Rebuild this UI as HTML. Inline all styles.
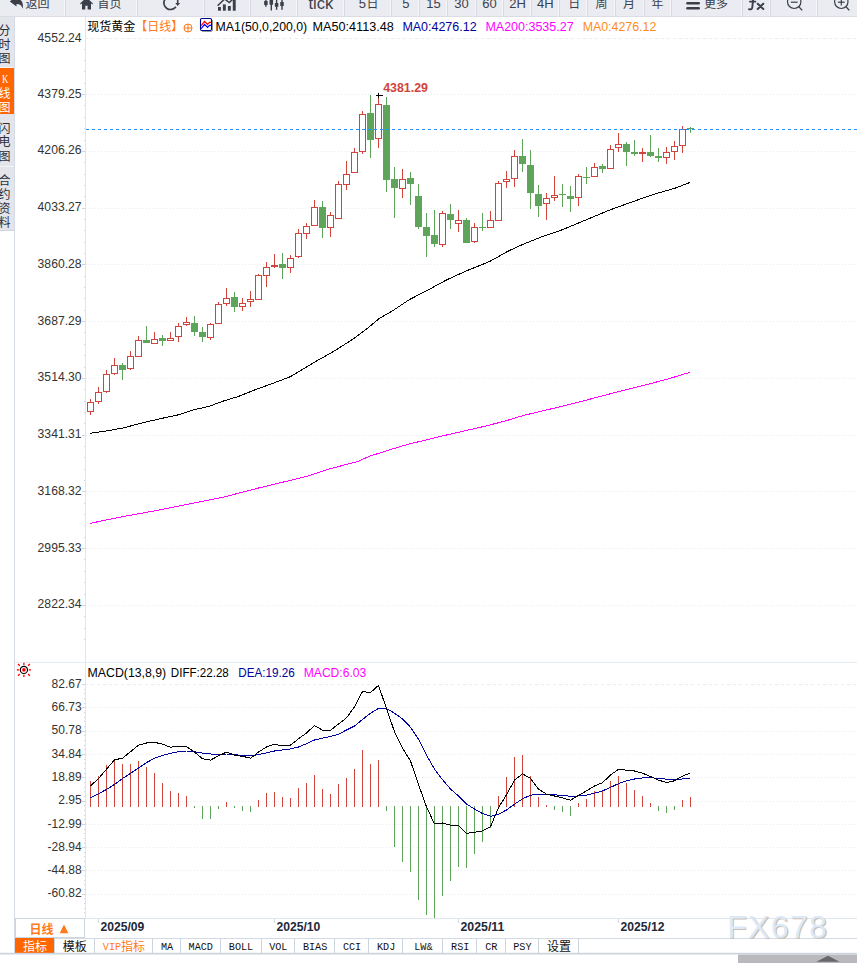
<!DOCTYPE html>
<html><head><meta charset="utf-8"><title>chart</title>
<style>html,body{margin:0;padding:0;background:#fff;}svg{display:block;}.cjk{font-family:"Liberation Sans","Noto Sans CJK SC",sans-serif;}</style>
</head><body>
<svg width="857" height="963" viewBox="0 0 857 963" font-family="'Liberation Sans', sans-serif" font-size="12">
<rect width="857" height="963" fill="#fff"/>
<g id="toolbar">
<rect x="0" y="0" width="857" height="16" fill="#ebecf2"/>
<rect x="0" y="16" width="857" height="1" fill="#dcdde4"/>
<rect x="64" y="0" width="1" height="16" fill="#f6f6fa"/><rect x="65" y="0" width="1" height="17" fill="#d9dae1"/>
<rect x="136" y="0" width="1" height="16" fill="#f6f6fa"/><rect x="137" y="0" width="1" height="17" fill="#d9dae1"/>
<rect x="203" y="0" width="1" height="16" fill="#f6f6fa"/><rect x="204" y="0" width="1" height="17" fill="#d9dae1"/>
<rect x="249" y="0" width="1" height="16" fill="#f6f6fa"/><rect x="250" y="0" width="1" height="17" fill="#d9dae1"/>
<rect x="296" y="0" width="1" height="16" fill="#f6f6fa"/><rect x="297" y="0" width="1" height="17" fill="#d9dae1"/>
<rect x="343" y="0" width="1" height="16" fill="#f6f6fa"/><rect x="344" y="0" width="1" height="17" fill="#d9dae1"/>
<rect x="390" y="0" width="1" height="16" fill="#f6f6fa"/><rect x="391" y="0" width="1" height="17" fill="#d9dae1"/>
<rect x="418" y="0" width="1" height="16" fill="#f6f6fa"/><rect x="419" y="0" width="1" height="17" fill="#d9dae1"/>
<rect x="446" y="0" width="1" height="16" fill="#f6f6fa"/><rect x="447" y="0" width="1" height="17" fill="#d9dae1"/>
<rect x="475" y="0" width="1" height="16" fill="#f6f6fa"/><rect x="476" y="0" width="1" height="17" fill="#d9dae1"/>
<rect x="502" y="0" width="1" height="16" fill="#f6f6fa"/><rect x="503" y="0" width="1" height="17" fill="#d9dae1"/>
<rect x="530" y="0" width="1" height="16" fill="#f6f6fa"/><rect x="531" y="0" width="1" height="17" fill="#d9dae1"/>
<rect x="558" y="0" width="1" height="16" fill="#f6f6fa"/><rect x="559" y="0" width="1" height="17" fill="#d9dae1"/>
<rect x="586" y="0" width="1" height="16" fill="#f6f6fa"/><rect x="587" y="0" width="1" height="17" fill="#d9dae1"/>
<rect x="614" y="0" width="1" height="16" fill="#f6f6fa"/><rect x="615" y="0" width="1" height="17" fill="#d9dae1"/>
<rect x="643" y="0" width="1" height="16" fill="#f6f6fa"/><rect x="644" y="0" width="1" height="17" fill="#d9dae1"/>
<rect x="670" y="0" width="1" height="16" fill="#f6f6fa"/><rect x="671" y="0" width="1" height="17" fill="#d9dae1"/>
<rect x="741" y="0" width="1" height="16" fill="#f6f6fa"/><rect x="742" y="0" width="1" height="17" fill="#d9dae1"/>
<rect x="769" y="0" width="1" height="16" fill="#f6f6fa"/><rect x="770" y="0" width="1" height="17" fill="#d9dae1"/>
<rect x="816" y="0" width="1" height="16" fill="#f6f6fa"/><rect x="817" y="0" width="1" height="17" fill="#d9dae1"/>
<path d="M9.8 1.5 L16.5 -4.4 L16.5 -1.2 C21.2 -1.2 23.6 2.2 22.8 8.8 C21.6 5.4 19.8 4.0 16.5 4.0 L16.5 6.6 Z" fill="#3a3f4a"/>
<text class="cjk" x="25.5" y="7.7" font-size="12" fill="#3a3f4a">返回</text>
<path d="M80 3.6 L86.5 -2.6 L93 3.6 L92.2 4.4 L91 3.3 L91 9.6 L87.6 9.6 L87.6 5.8 L85.3 5.8 L85.3 9.6 L82 9.6 L82 3.3 L80.8 4.4 Z" fill="#3a3f4a"/>
<text class="cjk" x="97.5" y="7.7" font-size="12" fill="#3a3f4a">首页</text>
<path d="M175.9 6.7 A6.6 6.6 0 1 1 173.8 -2.8" fill="none" stroke="#3a3f4a" stroke-width="1.7"/>
<path d="M176.9 -4 H178.5 V3 H180.1 L177.7 6.1 L175.3 3 H176.9 Z" fill="#3a3f4a"/>
<rect x="218" y="7" width="2.9" height="3.6999999999999993" fill="#3a3f4a"/>
<rect x="222.9" y="4.4" width="2.9" height="6.299999999999999" fill="#3a3f4a"/>
<rect x="227.9" y="6" width="2.9" height="4.699999999999999" fill="#3a3f4a"/>
<rect x="232.8" y="-1" width="2.9" height="11.7" fill="#3a3f4a"/>
<path d="M217.6 5.8 L224.6 -1 L229.3 2.6 L234.4 -2.4" fill="none" stroke="#3a3f4a" stroke-width="1.5"/>
<rect x="265.2" y="-3" width="1.4" height="9.8" fill="#3a3f4a"/><rect x="264.15" y="1" width="3.5" height="4.1" rx="0.5" fill="#3a3f4a"/>
<rect x="270.6" y="-4" width="1.4" height="14.5" fill="#3a3f4a"/><rect x="269.55" y="-4" width="3.5" height="8.7" rx="0.5" fill="#3a3f4a"/>
<rect x="275.90000000000003" y="-4" width="1.4" height="13.8" fill="#3a3f4a"/><rect x="274.85" y="3" width="3.5" height="3.8" rx="0.5" fill="#3a3f4a"/>
<rect x="281.3" y="-4" width="1.4" height="13.8" fill="#3a3f4a"/><rect x="280.25" y="2" width="3.5" height="4" rx="0.5" fill="#3a3f4a"/>
<text x="308.4" y="8.7" font-size="16" fill="#3a3f4a" textLength="24.8" lengthAdjust="spacingAndGlyphs">tick</text>
<text x="358.7" y="7.8" font-size="13" fill="#3a3f4a">5</text>
<text class="cjk" x="366.4" y="7.7" font-size="12" fill="#3a3f4a">日</text>
<text x="402.3" y="7.8" font-size="13" fill="#3a3f4a">5</text>
<text x="426.2" y="7.8" font-size="13" fill="#3a3f4a">15</text>
<text x="454.3" y="7.8" font-size="13" fill="#3a3f4a">30</text>
<text x="482.3" y="7.8" font-size="13" fill="#3a3f4a">60</text>
<text x="509.3" y="7.8" font-size="13" fill="#3a3f4a">2H</text>
<text x="537.1" y="7.8" font-size="13" fill="#3a3f4a">4H</text>
<text class="cjk" x="568.3" y="7.6" font-size="12" fill="#3a3f4a">日</text>
<text class="cjk" x="595.5" y="7.6" font-size="12" fill="#3a3f4a">周</text>
<text class="cjk" x="623" y="7.6" font-size="12" fill="#3a3f4a">月</text>
<text class="cjk" x="651.4" y="7.5" font-size="12" fill="#3a3f4a">年</text>
<rect x="686.2" y="2" width="13.8" height="2.6" rx="1.3" fill="#3a3f4a"/><rect x="686.2" y="7" width="13.8" height="2.6" rx="1.3" fill="#3a3f4a"/>
<text class="cjk" x="704" y="8" font-size="12" fill="#3a3f4a">更多</text>
<path d="M753.4 -3 L752.3 7.4 Q752 9.9 749 9.2 M750 1.6 H755.4" stroke="#3a3f4a" stroke-width="1.9" fill="none" stroke-linecap="round"/>
<path d="M757.7 3.7 L763.3 9 M763.3 3.7 L757.7 9" stroke="#3a3f4a" stroke-width="2" fill="none" stroke-linecap="round"/>
<circle cx="794.2" cy="1.8" r="6.7" fill="none" stroke="#3a3f4a" stroke-width="1.2"/>
<path d="M798.8000000000001 6.6 L802.2 10.4" stroke="#3a3f4a" stroke-width="1.4" fill="none"/>
<path d="M790.8000000000001 2.2 L797.6 2.2" stroke="#3a3f4a" stroke-width="1.2" fill="none"/>
<circle cx="841.3" cy="1.8" r="6.7" fill="none" stroke="#3a3f4a" stroke-width="1.2"/>
<path d="M845.9 6.6 L849.3 10.4" stroke="#3a3f4a" stroke-width="1.4" fill="none"/>
<path d="M837.9 2.2 L844.6999999999999 2.2" stroke="#3a3f4a" stroke-width="1.2" fill="none"/>
<path d="M841.3 -1.4 L841.3 5.6" stroke="#3a3f4a" stroke-width="1.2" fill="none"/>
</g>
<g id="sidebar">
<rect x="0" y="17" width="14" height="214" fill="#e4e5eb"/>
<rect x="14" y="17" width="1" height="937" fill="#d5dbe6"/>
<rect x="0" y="68" width="14" height="46" fill="#ff6600"/>
<rect x="0" y="67" width="14" height="1" fill="#f3f3f7"/>
<rect x="0" y="166" width="14" height="1" fill="#f3f3f7"/>
<rect x="0" y="230" width="15" height="1" fill="#d0d4dc"/>
<text class="cjk" x="4.5" y="34.9" font-size="12" text-anchor="middle" fill="#2a2f3a">分</text>
<text class="cjk" x="4.5" y="49" font-size="12" text-anchor="middle" fill="#2a2f3a">时</text>
<text class="cjk" x="4.5" y="63.2" font-size="12" text-anchor="middle" fill="#2a2f3a">图</text>
<text x="1.9" y="83" font-size="11.6" font-family="'Liberation Serif', serif" fill="#fff" textLength="6.4" lengthAdjust="spacingAndGlyphs">K</text>
<text class="cjk" x="4.5" y="97.6" font-size="12" text-anchor="middle" fill="#fff">线</text>
<text class="cjk" x="4.5" y="112" font-size="12" text-anchor="middle" fill="#fff">图</text>
<text class="cjk" x="4.5" y="132.7" font-size="12" text-anchor="middle" fill="#2a2f3a">闪</text>
<text class="cjk" x="4.5" y="146.4" font-size="12" text-anchor="middle" fill="#2a2f3a">电</text>
<text class="cjk" x="4.5" y="160.5" font-size="12" text-anchor="middle" fill="#2a2f3a">图</text>
<text class="cjk" x="4.5" y="184.6" font-size="12" text-anchor="middle" fill="#2a2f3a">合</text>
<text class="cjk" x="4.5" y="198.9" font-size="12" text-anchor="middle" fill="#2a2f3a">约</text>
<text class="cjk" x="4.5" y="212.9" font-size="12" text-anchor="middle" fill="#2a2f3a">资</text>
<text class="cjk" x="4.5" y="226.8" font-size="12" text-anchor="middle" fill="#2a2f3a">料</text>
</g>
<g id="grid" shape-rendering="crispEdges">
<rect x="85" y="17" width="1" height="902" fill="#dde5ee"/>
<line x1="85" y1="38.5" x2="857" y2="38.5" stroke="#e8edf2" stroke-dasharray="3 3"/>
<rect x="84" y="49" width="1" height="1" fill="#ccd6e0"/>
<rect x="84" y="60" width="1" height="1" fill="#ccd6e0"/>
<rect x="84" y="71" width="1" height="1" fill="#ccd6e0"/>
<rect x="84" y="83" width="1" height="1" fill="#ccd6e0"/>
<line x1="86" y1="94.5" x2="857" y2="94.5" stroke="#e8edf2" stroke-dasharray="1 2"/>
<rect x="82" y="94" width="3" height="1" fill="#ccd6e0"/>
<rect x="84" y="105" width="1" height="1" fill="#ccd6e0"/>
<rect x="84" y="117" width="1" height="1" fill="#ccd6e0"/>
<rect x="84" y="128" width="1" height="1" fill="#ccd6e0"/>
<rect x="84" y="140" width="1" height="1" fill="#ccd6e0"/>
<line x1="86" y1="151.5" x2="857" y2="151.5" stroke="#e8edf2" stroke-dasharray="1 2"/>
<rect x="82" y="151" width="3" height="1" fill="#ccd6e0"/>
<rect x="84" y="162" width="1" height="1" fill="#ccd6e0"/>
<rect x="84" y="174" width="1" height="1" fill="#ccd6e0"/>
<rect x="84" y="185" width="1" height="1" fill="#ccd6e0"/>
<rect x="84" y="196" width="1" height="1" fill="#ccd6e0"/>
<line x1="86" y1="208.5" x2="857" y2="208.5" stroke="#e8edf2" stroke-dasharray="1 2"/>
<rect x="82" y="208" width="3" height="1" fill="#ccd6e0"/>
<rect x="84" y="219" width="1" height="1" fill="#ccd6e0"/>
<rect x="84" y="230" width="1" height="1" fill="#ccd6e0"/>
<rect x="84" y="242" width="1" height="1" fill="#ccd6e0"/>
<rect x="84" y="253" width="1" height="1" fill="#ccd6e0"/>
<line x1="86" y1="264.5" x2="857" y2="264.5" stroke="#e8edf2" stroke-dasharray="1 2"/>
<rect x="82" y="264" width="3" height="1" fill="#ccd6e0"/>
<rect x="84" y="276" width="1" height="1" fill="#ccd6e0"/>
<rect x="84" y="287" width="1" height="1" fill="#ccd6e0"/>
<rect x="84" y="298" width="1" height="1" fill="#ccd6e0"/>
<rect x="84" y="310" width="1" height="1" fill="#ccd6e0"/>
<line x1="86" y1="321.5" x2="857" y2="321.5" stroke="#e8edf2" stroke-dasharray="1 2"/>
<rect x="82" y="321" width="3" height="1" fill="#ccd6e0"/>
<rect x="84" y="332" width="1" height="1" fill="#ccd6e0"/>
<rect x="84" y="344" width="1" height="1" fill="#ccd6e0"/>
<rect x="84" y="355" width="1" height="1" fill="#ccd6e0"/>
<rect x="84" y="367" width="1" height="1" fill="#ccd6e0"/>
<line x1="86" y1="378.5" x2="857" y2="378.5" stroke="#e8edf2" stroke-dasharray="1 2"/>
<rect x="82" y="378" width="3" height="1" fill="#ccd6e0"/>
<rect x="84" y="389" width="1" height="1" fill="#ccd6e0"/>
<rect x="84" y="401" width="1" height="1" fill="#ccd6e0"/>
<rect x="84" y="412" width="1" height="1" fill="#ccd6e0"/>
<rect x="84" y="423" width="1" height="1" fill="#ccd6e0"/>
<line x1="86" y1="435.5" x2="857" y2="435.5" stroke="#e8edf2" stroke-dasharray="1 2"/>
<rect x="82" y="435" width="3" height="1" fill="#ccd6e0"/>
<rect x="84" y="446" width="1" height="1" fill="#ccd6e0"/>
<rect x="84" y="457" width="1" height="1" fill="#ccd6e0"/>
<rect x="84" y="469" width="1" height="1" fill="#ccd6e0"/>
<rect x="84" y="480" width="1" height="1" fill="#ccd6e0"/>
<line x1="86" y1="491.5" x2="857" y2="491.5" stroke="#e8edf2" stroke-dasharray="1 2"/>
<rect x="82" y="491" width="3" height="1" fill="#ccd6e0"/>
<rect x="84" y="503" width="1" height="1" fill="#ccd6e0"/>
<rect x="84" y="514" width="1" height="1" fill="#ccd6e0"/>
<rect x="84" y="525" width="1" height="1" fill="#ccd6e0"/>
<rect x="84" y="537" width="1" height="1" fill="#ccd6e0"/>
<line x1="86" y1="548.5" x2="857" y2="548.5" stroke="#e8edf2" stroke-dasharray="1 2"/>
<rect x="82" y="548" width="3" height="1" fill="#ccd6e0"/>
<rect x="84" y="559" width="1" height="1" fill="#ccd6e0"/>
<rect x="84" y="571" width="1" height="1" fill="#ccd6e0"/>
<rect x="84" y="582" width="1" height="1" fill="#ccd6e0"/>
<rect x="84" y="594" width="1" height="1" fill="#ccd6e0"/>
<line x1="86" y1="605.5" x2="857" y2="605.5" stroke="#e8edf2" stroke-dasharray="1 2"/>
<rect x="82" y="605" width="3" height="1" fill="#ccd6e0"/>
<rect x="84" y="616" width="1" height="1" fill="#ccd6e0"/>
<rect x="84" y="628" width="1" height="1" fill="#ccd6e0"/>
<rect x="84" y="639" width="1" height="1" fill="#ccd6e0"/>
<rect x="15" y="662" width="842" height="1" fill="#e6ecf3"/>
<line x1="85" y1="684.5" x2="857" y2="684.5" stroke="#e8edf2" stroke-dasharray="3 3"/>
<rect x="82" y="684" width="3" height="1" fill="#ccd6e0"/>
<rect x="84" y="689" width="1" height="1" fill="#ccd6e0"/>
<rect x="84" y="693" width="1" height="1" fill="#ccd6e0"/>
<rect x="84" y="698" width="1" height="1" fill="#ccd6e0"/>
<rect x="84" y="703" width="1" height="1" fill="#ccd6e0"/>
<line x1="86" y1="707.5" x2="857" y2="707.5" stroke="#e8edf2" stroke-dasharray="1 2"/>
<rect x="82" y="707" width="3" height="1" fill="#ccd6e0"/>
<rect x="84" y="712" width="1" height="1" fill="#ccd6e0"/>
<rect x="84" y="717" width="1" height="1" fill="#ccd6e0"/>
<rect x="84" y="721" width="1" height="1" fill="#ccd6e0"/>
<rect x="84" y="726" width="1" height="1" fill="#ccd6e0"/>
<line x1="86" y1="731.5" x2="857" y2="731.5" stroke="#e8edf2" stroke-dasharray="1 2"/>
<rect x="82" y="731" width="3" height="1" fill="#ccd6e0"/>
<rect x="84" y="735" width="1" height="1" fill="#ccd6e0"/>
<rect x="84" y="740" width="1" height="1" fill="#ccd6e0"/>
<rect x="84" y="745" width="1" height="1" fill="#ccd6e0"/>
<rect x="84" y="749" width="1" height="1" fill="#ccd6e0"/>
<line x1="86" y1="754.5" x2="857" y2="754.5" stroke="#e8edf2" stroke-dasharray="1 2"/>
<rect x="82" y="754" width="3" height="1" fill="#ccd6e0"/>
<rect x="84" y="759" width="1" height="1" fill="#ccd6e0"/>
<rect x="84" y="763" width="1" height="1" fill="#ccd6e0"/>
<rect x="84" y="768" width="1" height="1" fill="#ccd6e0"/>
<rect x="84" y="773" width="1" height="1" fill="#ccd6e0"/>
<line x1="86" y1="777.5" x2="857" y2="777.5" stroke="#e8edf2" stroke-dasharray="1 2"/>
<rect x="82" y="777" width="3" height="1" fill="#ccd6e0"/>
<rect x="84" y="782" width="1" height="1" fill="#ccd6e0"/>
<rect x="84" y="787" width="1" height="1" fill="#ccd6e0"/>
<rect x="84" y="791" width="1" height="1" fill="#ccd6e0"/>
<rect x="84" y="796" width="1" height="1" fill="#ccd6e0"/>
<line x1="86" y1="801.5" x2="857" y2="801.5" stroke="#e8edf2" stroke-dasharray="1 2"/>
<rect x="82" y="801" width="3" height="1" fill="#ccd6e0"/>
<rect x="84" y="805" width="1" height="1" fill="#ccd6e0"/>
<rect x="84" y="810" width="1" height="1" fill="#ccd6e0"/>
<rect x="84" y="815" width="1" height="1" fill="#ccd6e0"/>
<rect x="84" y="819" width="1" height="1" fill="#ccd6e0"/>
<line x1="86" y1="824.5" x2="857" y2="824.5" stroke="#e8edf2" stroke-dasharray="1 2"/>
<rect x="82" y="824" width="3" height="1" fill="#ccd6e0"/>
<rect x="84" y="829" width="1" height="1" fill="#ccd6e0"/>
<rect x="84" y="833" width="1" height="1" fill="#ccd6e0"/>
<rect x="84" y="838" width="1" height="1" fill="#ccd6e0"/>
<rect x="84" y="843" width="1" height="1" fill="#ccd6e0"/>
<line x1="86" y1="847.5" x2="857" y2="847.5" stroke="#e8edf2" stroke-dasharray="1 2"/>
<rect x="82" y="847" width="3" height="1" fill="#ccd6e0"/>
<rect x="84" y="852" width="1" height="1" fill="#ccd6e0"/>
<rect x="84" y="856" width="1" height="1" fill="#ccd6e0"/>
<rect x="84" y="861" width="1" height="1" fill="#ccd6e0"/>
<rect x="84" y="866" width="1" height="1" fill="#ccd6e0"/>
<line x1="86" y1="870.5" x2="857" y2="870.5" stroke="#e8edf2" stroke-dasharray="1 2"/>
<rect x="82" y="870" width="3" height="1" fill="#ccd6e0"/>
<rect x="84" y="875" width="1" height="1" fill="#ccd6e0"/>
<rect x="84" y="880" width="1" height="1" fill="#ccd6e0"/>
<rect x="84" y="884" width="1" height="1" fill="#ccd6e0"/>
<rect x="84" y="889" width="1" height="1" fill="#ccd6e0"/>
<line x1="86" y1="894.5" x2="857" y2="894.5" stroke="#e8edf2" stroke-dasharray="1 2"/>
<rect x="82" y="894" width="3" height="1" fill="#ccd6e0"/>
<rect x="84" y="898" width="1" height="1" fill="#ccd6e0"/>
<rect x="84" y="903" width="1" height="1" fill="#ccd6e0"/>
<rect x="84" y="908" width="1" height="1" fill="#ccd6e0"/>
<rect x="84" y="912" width="1" height="1" fill="#ccd6e0"/>
<rect x="85" y="918" width="772" height="1" fill="#dfe6ee"/>
<rect x="15" y="938" width="842" height="1" fill="#d3dae4"/>
<rect x="98" y="919" width="1" height="4" fill="#d3dae4"/>
<rect x="274" y="919" width="1" height="4" fill="#d3dae4"/>
<rect x="458" y="919" width="1" height="4" fill="#d3dae4"/>
<rect x="618" y="919" width="1" height="4" fill="#d3dae4"/>
</g>
<g id="ylabels" fill="#333" text-anchor="end">
<text x="81.6" y="41.8" textLength="44" lengthAdjust="spacingAndGlyphs">4552.24</text>
<text x="81.6" y="97.7" textLength="44" lengthAdjust="spacingAndGlyphs">4379.25</text>
<text x="81.6" y="154.45" textLength="44" lengthAdjust="spacingAndGlyphs">4206.26</text>
<text x="81.6" y="211.2" textLength="44" lengthAdjust="spacingAndGlyphs">4033.27</text>
<text x="81.6" y="267.95" textLength="44" lengthAdjust="spacingAndGlyphs">3860.28</text>
<text x="81.6" y="324.7" textLength="44" lengthAdjust="spacingAndGlyphs">3687.29</text>
<text x="81.6" y="381.45" textLength="44" lengthAdjust="spacingAndGlyphs">3514.30</text>
<text x="81.6" y="438.2" textLength="44" lengthAdjust="spacingAndGlyphs">3341.31</text>
<text x="81.6" y="494.95" textLength="44" lengthAdjust="spacingAndGlyphs">3168.32</text>
<text x="81.6" y="551.7" textLength="44" lengthAdjust="spacingAndGlyphs">2995.33</text>
<text x="81.6" y="608.45" textLength="44" lengthAdjust="spacingAndGlyphs">2822.34</text>
<text x="81.6" y="687.7">82.67</text>
<text x="81.6" y="711.01">66.73</text>
<text x="81.6" y="734.32">50.78</text>
<text x="81.6" y="757.63">34.84</text>
<text x="81.6" y="780.94">18.89</text>
<text x="81.6" y="804.25">2.95</text>
<text x="81.6" y="827.56">-12.99</text>
<text x="81.6" y="850.87">-28.94</text>
<text x="81.6" y="874.18">-44.88</text>
<text x="81.6" y="897.49">-60.82</text>
</g>
<g id="candles" shape-rendering="crispEdges">
<rect x="90" y="399" width="1" height="3" fill="#d0443b"/>
<rect x="90" y="412" width="1" height="3" fill="#d0443b"/>
<rect x="87" y="402" width="7" height="10" fill="#d0443b"/><rect x="88" y="403" width="5" height="8" fill="#fff"/>
<rect x="98" y="387" width="1" height="5" fill="#d0443b"/>
<rect x="98" y="402" width="1" height="2" fill="#d0443b"/>
<rect x="95" y="392" width="7" height="10" fill="#d0443b"/><rect x="96" y="393" width="5" height="8" fill="#fff"/>
<rect x="106" y="370" width="1" height="4" fill="#d0443b"/>
<rect x="106" y="392" width="1" height="1" fill="#d0443b"/>
<rect x="103" y="374" width="7" height="18" fill="#d0443b"/><rect x="104" y="375" width="5" height="16" fill="#fff"/>
<rect x="114" y="358" width="1" height="7" fill="#d0443b"/>
<rect x="114" y="374" width="1" height="1" fill="#d0443b"/>
<rect x="111" y="365" width="7" height="9" fill="#d0443b"/><rect x="112" y="366" width="5" height="7" fill="#fff"/>
<rect x="122" y="363" width="1" height="17" fill="#5fa45b"/>
<rect x="119" y="365" width="7" height="5" fill="#5fa45b"/>
<rect x="130" y="351" width="1" height="5" fill="#d0443b"/>
<rect x="130" y="369" width="1" height="1" fill="#d0443b"/>
<rect x="127" y="356" width="7" height="13" fill="#d0443b"/><rect x="128" y="357" width="5" height="11" fill="#fff"/>
<rect x="138" y="336" width="1" height="4" fill="#d0443b"/>
<rect x="135" y="340" width="7" height="17" fill="#d0443b"/><rect x="136" y="341" width="5" height="15" fill="#fff"/>
<rect x="146" y="326" width="1" height="17" fill="#5fa45b"/>
<rect x="143" y="340" width="7" height="3" fill="#5fa45b"/>
<rect x="154" y="332" width="1" height="7" fill="#d0443b"/>
<rect x="151" y="339" width="7" height="5" fill="#d0443b"/><rect x="152" y="340" width="5" height="3" fill="#fff"/>
<rect x="162" y="335" width="1" height="11" fill="#5fa45b"/>
<rect x="159" y="338" width="7" height="3" fill="#5fa45b"/>
<rect x="170" y="332" width="1" height="6" fill="#d0443b"/>
<rect x="167" y="338" width="7" height="3" fill="#d0443b"/><rect x="168" y="339" width="5" height="1" fill="#fff"/>
<rect x="178" y="323" width="1" height="3" fill="#d0443b"/>
<rect x="178" y="337" width="1" height="5" fill="#d0443b"/>
<rect x="175" y="326" width="7" height="11" fill="#d0443b"/><rect x="176" y="327" width="5" height="9" fill="#fff"/>
<rect x="186" y="317" width="1" height="5" fill="#d0443b"/>
<rect x="186" y="325" width="1" height="1" fill="#d0443b"/>
<rect x="183" y="322" width="7" height="3" fill="#d0443b"/><rect x="184" y="323" width="5" height="1" fill="#fff"/>
<rect x="194" y="316" width="1" height="20" fill="#5fa45b"/>
<rect x="191" y="323" width="7" height="9" fill="#5fa45b"/>
<rect x="202" y="327" width="1" height="15" fill="#5fa45b"/>
<rect x="199" y="332" width="7" height="5" fill="#5fa45b"/>
<rect x="210" y="323" width="1" height="1" fill="#d0443b"/>
<rect x="210" y="338" width="1" height="2" fill="#d0443b"/>
<rect x="207" y="324" width="7" height="14" fill="#d0443b"/><rect x="208" y="325" width="5" height="12" fill="#fff"/>
<rect x="218" y="302" width="1" height="2" fill="#d0443b"/>
<rect x="215" y="304" width="7" height="20" fill="#d0443b"/><rect x="216" y="305" width="5" height="18" fill="#fff"/>
<rect x="226" y="288" width="1" height="10" fill="#d0443b"/>
<rect x="226" y="304" width="1" height="2" fill="#d0443b"/>
<rect x="223" y="298" width="7" height="6" fill="#d0443b"/><rect x="224" y="299" width="5" height="4" fill="#fff"/>
<rect x="234" y="292" width="1" height="20" fill="#5fa45b"/>
<rect x="231" y="297" width="7" height="10" fill="#5fa45b"/>
<rect x="242" y="298" width="1" height="5" fill="#d0443b"/>
<rect x="242" y="307" width="1" height="4" fill="#d0443b"/>
<rect x="239" y="303" width="7" height="4" fill="#d0443b"/><rect x="240" y="304" width="5" height="2" fill="#fff"/>
<rect x="250" y="291" width="1" height="8" fill="#d0443b"/>
<rect x="250" y="302" width="1" height="5" fill="#d0443b"/>
<rect x="247" y="299" width="7" height="3" fill="#d0443b"/><rect x="248" y="300" width="5" height="1" fill="#fff"/>
<rect x="258" y="274" width="1" height="1" fill="#d0443b"/>
<rect x="255" y="275" width="7" height="25" fill="#d0443b"/><rect x="256" y="276" width="5" height="23" fill="#fff"/>
<rect x="266" y="262" width="1" height="5" fill="#d0443b"/>
<rect x="266" y="276" width="1" height="11" fill="#d0443b"/>
<rect x="263" y="267" width="7" height="9" fill="#d0443b"/><rect x="264" y="268" width="5" height="7" fill="#fff"/>
<rect x="274" y="254" width="1" height="11" fill="#d0443b"/>
<rect x="274" y="267" width="1" height="1" fill="#d0443b"/>
<rect x="271" y="265" width="7" height="2" fill="#d0443b"/>
<rect x="282" y="253" width="1" height="26" fill="#5fa45b"/>
<rect x="279" y="264" width="7" height="4" fill="#5fa45b"/>
<rect x="290" y="255" width="1" height="3" fill="#d0443b"/>
<rect x="290" y="268" width="1" height="5" fill="#d0443b"/>
<rect x="287" y="258" width="7" height="10" fill="#d0443b"/><rect x="288" y="259" width="5" height="8" fill="#fff"/>
<rect x="298" y="229" width="1" height="4" fill="#d0443b"/>
<rect x="298" y="257" width="1" height="1" fill="#d0443b"/>
<rect x="295" y="233" width="7" height="24" fill="#d0443b"/><rect x="296" y="234" width="5" height="22" fill="#fff"/>
<rect x="306" y="223" width="1" height="3" fill="#d0443b"/>
<rect x="306" y="234" width="1" height="5" fill="#d0443b"/>
<rect x="303" y="226" width="7" height="8" fill="#d0443b"/><rect x="304" y="227" width="5" height="6" fill="#fff"/>
<rect x="314" y="200" width="1" height="7" fill="#d0443b"/>
<rect x="311" y="207" width="7" height="19" fill="#d0443b"/><rect x="312" y="208" width="5" height="17" fill="#fff"/>
<rect x="322" y="201" width="1" height="37" fill="#5fa45b"/>
<rect x="319" y="207" width="7" height="21" fill="#5fa45b"/>
<rect x="330" y="212" width="1" height="3" fill="#d0443b"/>
<rect x="330" y="228" width="1" height="9" fill="#d0443b"/>
<rect x="327" y="215" width="7" height="13" fill="#d0443b"/><rect x="328" y="216" width="5" height="11" fill="#fff"/>
<rect x="338" y="181" width="1" height="3" fill="#d0443b"/>
<rect x="335" y="184" width="7" height="35" fill="#d0443b"/><rect x="336" y="185" width="5" height="33" fill="#fff"/>
<rect x="346" y="161" width="1" height="13" fill="#d0443b"/>
<rect x="346" y="185" width="1" height="5" fill="#d0443b"/>
<rect x="343" y="174" width="7" height="11" fill="#d0443b"/><rect x="344" y="175" width="5" height="9" fill="#fff"/>
<rect x="354" y="148" width="1" height="4" fill="#d0443b"/>
<rect x="351" y="152" width="7" height="21" fill="#d0443b"/><rect x="352" y="153" width="5" height="19" fill="#fff"/>
<rect x="362" y="111" width="1" height="3" fill="#d0443b"/>
<rect x="362" y="152" width="1" height="2" fill="#d0443b"/>
<rect x="359" y="114" width="7" height="38" fill="#d0443b"/><rect x="360" y="115" width="5" height="36" fill="#fff"/>
<rect x="370" y="95" width="1" height="63" fill="#5fa45b"/>
<rect x="367" y="113" width="7" height="27" fill="#5fa45b"/>
<rect x="378" y="95" width="1" height="9" fill="#d0443b"/>
<rect x="378" y="139" width="1" height="9" fill="#d0443b"/>
<rect x="375" y="104" width="7" height="35" fill="#d0443b"/><rect x="376" y="105" width="5" height="33" fill="#fff"/>
<rect x="386" y="97" width="1" height="95" fill="#5fa45b"/>
<rect x="383" y="105" width="7" height="75" fill="#5fa45b"/>
<rect x="394" y="167" width="1" height="51" fill="#5fa45b"/>
<rect x="391" y="179" width="7" height="9" fill="#5fa45b"/>
<rect x="402" y="169" width="1" height="10" fill="#d0443b"/>
<rect x="402" y="189" width="1" height="9" fill="#d0443b"/>
<rect x="399" y="179" width="7" height="10" fill="#d0443b"/><rect x="400" y="180" width="5" height="8" fill="#fff"/>
<rect x="410" y="172" width="1" height="33" fill="#5fa45b"/>
<rect x="407" y="178" width="7" height="6" fill="#5fa45b"/>
<rect x="418" y="184" width="1" height="45" fill="#5fa45b"/>
<rect x="415" y="196" width="7" height="31" fill="#5fa45b"/>
<rect x="426" y="213" width="1" height="44" fill="#5fa45b"/>
<rect x="423" y="227" width="7" height="9" fill="#5fa45b"/>
<rect x="434" y="210" width="1" height="37" fill="#5fa45b"/>
<rect x="431" y="235" width="7" height="9" fill="#5fa45b"/>
<rect x="442" y="211" width="1" height="2" fill="#d0443b"/>
<rect x="442" y="245" width="1" height="2" fill="#d0443b"/>
<rect x="439" y="213" width="7" height="32" fill="#d0443b"/><rect x="440" y="214" width="5" height="30" fill="#fff"/>
<rect x="450" y="204" width="1" height="25" fill="#5fa45b"/>
<rect x="447" y="214" width="7" height="6" fill="#5fa45b"/>
<rect x="458" y="210" width="1" height="10" fill="#d0443b"/>
<rect x="458" y="224" width="1" height="8" fill="#d0443b"/>
<rect x="455" y="220" width="7" height="4" fill="#d0443b"/><rect x="456" y="221" width="5" height="2" fill="#fff"/>
<rect x="466" y="218" width="1" height="25" fill="#5fa45b"/>
<rect x="463" y="220" width="7" height="23" fill="#5fa45b"/>
<rect x="474" y="223" width="1" height="4" fill="#d0443b"/>
<rect x="474" y="242" width="1" height="1" fill="#d0443b"/>
<rect x="471" y="227" width="7" height="15" fill="#d0443b"/><rect x="472" y="228" width="5" height="13" fill="#fff"/>
<rect x="482" y="213" width="1" height="18" fill="#5fa45b"/>
<rect x="479" y="227" width="7" height="1" fill="#5fa45b"/>
<rect x="490" y="211" width="1" height="9" fill="#d0443b"/>
<rect x="487" y="220" width="7" height="8" fill="#d0443b"/><rect x="488" y="221" width="5" height="6" fill="#fff"/>
<rect x="498" y="181" width="1" height="2" fill="#d0443b"/>
<rect x="495" y="183" width="7" height="38" fill="#d0443b"/><rect x="496" y="184" width="5" height="36" fill="#fff"/>
<rect x="506" y="171" width="1" height="8" fill="#d0443b"/>
<rect x="506" y="182" width="1" height="6" fill="#d0443b"/>
<rect x="503" y="179" width="7" height="3" fill="#d0443b"/><rect x="504" y="180" width="5" height="1" fill="#fff"/>
<rect x="514" y="150" width="1" height="6" fill="#d0443b"/>
<rect x="514" y="179" width="1" height="8" fill="#d0443b"/>
<rect x="511" y="156" width="7" height="23" fill="#d0443b"/><rect x="512" y="157" width="5" height="21" fill="#fff"/>
<rect x="522" y="139" width="1" height="33" fill="#5fa45b"/>
<rect x="519" y="156" width="7" height="8" fill="#5fa45b"/>
<rect x="530" y="150" width="1" height="59" fill="#5fa45b"/>
<rect x="527" y="165" width="7" height="28" fill="#5fa45b"/>
<rect x="538" y="185" width="1" height="32" fill="#5fa45b"/>
<rect x="535" y="194" width="7" height="12" fill="#5fa45b"/>
<rect x="546" y="193" width="1" height="5" fill="#d0443b"/>
<rect x="546" y="204" width="1" height="16" fill="#d0443b"/>
<rect x="543" y="198" width="7" height="6" fill="#d0443b"/><rect x="544" y="199" width="5" height="4" fill="#fff"/>
<rect x="554" y="176" width="1" height="19" fill="#d0443b"/>
<rect x="554" y="198" width="1" height="3" fill="#d0443b"/>
<rect x="551" y="195" width="7" height="3" fill="#d0443b"/><rect x="552" y="196" width="5" height="1" fill="#fff"/>
<rect x="562" y="184" width="1" height="23" fill="#5fa45b"/>
<rect x="559" y="194" width="7" height="1" fill="#5fa45b"/>
<rect x="570" y="186" width="1" height="26" fill="#5fa45b"/>
<rect x="567" y="196" width="7" height="3" fill="#5fa45b"/>
<rect x="578" y="174" width="1" height="2" fill="#d0443b"/>
<rect x="578" y="198" width="1" height="8" fill="#d0443b"/>
<rect x="575" y="176" width="7" height="22" fill="#d0443b"/><rect x="576" y="177" width="5" height="20" fill="#fff"/>
<rect x="586" y="167" width="1" height="17" fill="#5fa45b"/>
<rect x="583" y="177" width="7" height="1" fill="#5fa45b"/>
<rect x="594" y="163" width="1" height="4" fill="#d0443b"/>
<rect x="591" y="167" width="7" height="10" fill="#d0443b"/><rect x="592" y="168" width="5" height="8" fill="#fff"/>
<rect x="602" y="164" width="1" height="9" fill="#5fa45b"/>
<rect x="599" y="166" width="7" height="3" fill="#5fa45b"/>
<rect x="610" y="145" width="1" height="4" fill="#d0443b"/>
<rect x="607" y="149" width="7" height="20" fill="#d0443b"/><rect x="608" y="150" width="5" height="18" fill="#fff"/>
<rect x="618" y="133" width="1" height="11" fill="#d0443b"/>
<rect x="618" y="148" width="1" height="4" fill="#d0443b"/>
<rect x="615" y="144" width="7" height="4" fill="#d0443b"/><rect x="616" y="145" width="5" height="2" fill="#fff"/>
<rect x="626" y="142" width="1" height="24" fill="#5fa45b"/>
<rect x="623" y="144" width="7" height="8" fill="#5fa45b"/>
<rect x="634" y="140" width="1" height="16" fill="#5fa45b"/>
<rect x="631" y="152" width="7" height="2" fill="#5fa45b"/>
<rect x="642" y="148" width="1" height="4" fill="#d0443b"/>
<rect x="642" y="154" width="1" height="8" fill="#d0443b"/>
<rect x="639" y="152" width="7" height="2" fill="#d0443b"/>
<rect x="650" y="135" width="1" height="22" fill="#5fa45b"/>
<rect x="647" y="152" width="7" height="4" fill="#5fa45b"/>
<rect x="658" y="148" width="1" height="14" fill="#5fa45b"/>
<rect x="655" y="156" width="7" height="2" fill="#5fa45b"/>
<rect x="666" y="147" width="1" height="5" fill="#d0443b"/>
<rect x="666" y="158" width="1" height="6" fill="#d0443b"/>
<rect x="663" y="152" width="7" height="6" fill="#d0443b"/><rect x="664" y="153" width="5" height="4" fill="#fff"/>
<rect x="674" y="141" width="1" height="5" fill="#d0443b"/>
<rect x="674" y="152" width="1" height="8" fill="#d0443b"/>
<rect x="671" y="146" width="7" height="6" fill="#d0443b"/><rect x="672" y="147" width="5" height="4" fill="#fff"/>
<rect x="682" y="126" width="1" height="3" fill="#d0443b"/>
<rect x="682" y="146" width="1" height="7" fill="#d0443b"/>
<rect x="679" y="129" width="7" height="17" fill="#d0443b"/><rect x="680" y="130" width="5" height="15" fill="#fff"/>
<rect x="690" y="127" width="1" height="6" fill="#5fa45b"/>
<rect x="687" y="128" width="7" height="1" fill="#5fa45b"/>
</g>
<line x1="86" y1="129.5" x2="857" y2="129.5" stroke="#1e90ff" stroke-width="1.4" stroke-dasharray="3 3" shape-rendering="crispEdges"/>
<polyline points="90.3,433.3 105,431.2 122.5,428.1 140,423.5 157.5,419.3 178.5,414.8 192.5,410.2 210,406 224,400.8 238,396.6 255.5,389.6 273,383.3 290.5,376.6 301,370.3 315,361.9 332.5,352.1 353.5,338.8 367.5,328.3 379.6,318.2 393.1,310.5 408.5,300.1 427.8,290.1 447,279.7 466.3,270.9 489.4,261.6 508.6,250.9 524,243.9 543.3,236.2 562.5,229.7 585.6,220.1 608.7,210.4 631.8,202 654.9,193.9 674.2,188.5 690.3,182.3" fill="none" stroke="#000" stroke-width="1" stroke-linejoin="round" shape-rendering="crispEdges"/>
<polyline points="90.3,523.3 119,517.3 154,511 189,504 224,497 259,487.9 294,479.5 308,476 329,469 357,461.7 370,456.1 389.3,449.9 408.5,444.2 447,434.9 485.5,426.1 504.8,421.1 524,415.3 554.8,408 585.6,400.3 616.4,392.2 647.2,384.5 670.3,378.3 690.3,372.2" fill="none" stroke="#ff00ff" stroke-width="1" stroke-linejoin="round" shape-rendering="crispEdges"/>
<g shape-rendering="crispEdges"><rect x="376" y="95" width="7" height="1" fill="#000"/><rect x="378" y="93" width="1" height="5" fill="#000"/></g>
<text x="383.2" y="92.2" font-weight="bold" fill="#d0443b" textLength="44.8" lengthAdjust="spacingAndGlyphs">4381.29</text>
<g id="title">
<text class="cjk" x="87.2" y="31" font-size="12" fill="#000">现货黄金</text>
<text class="cjk" x="135.2" y="31" font-size="12" fill="#ff7a1a">【日线】</text>
<g stroke="#ff7a1a" fill="none" stroke-width="1"><circle cx="188" cy="28" r="4"/><path d="M184 28 H192 M188 24 V32"/></g>
<path d="M202 31.5 H212 M212.5 20 V31" stroke="#9a9a9a" stroke-width="1" fill="none"/>
<rect x="200.5" y="18.5" width="11" height="12" rx="1.2" fill="#fff" stroke="#000090" stroke-width="1.1"/>
<path d="M201.2 25.6 L204.5 21.4 L207.5 24.3 L209.5 22.3 L211 22.3" fill="none" stroke="#f00" stroke-width="1.2"/>
<path d="M201.2 28.6 L204.5 24.4 L207.5 27.3 L209.5 25.3 L211 25.3" fill="none" stroke="#00f" stroke-width="1.2"/>
<text x="215.6" y="31" fill="#000" textLength="91.6" lengthAdjust="spacingAndGlyphs">MA1(50,0,200,0)</text>
<text x="312.6" y="31" fill="#000" textLength="81.2" lengthAdjust="spacingAndGlyphs">MA50:4113.48</text>
<text x="402.4" y="31" fill="#0000a0" textLength="74.2" lengthAdjust="spacingAndGlyphs">MA0:4276.12</text>
<text x="485.4" y="31" fill="#ff00ff" textLength="88.2" lengthAdjust="spacingAndGlyphs">MA200:3535.27</text>
<text x="582.7" y="31" fill="#ff8c1a" textLength="73.6" lengthAdjust="spacingAndGlyphs">MA0:4276.12</text>
</g>
<g id="macd">
<g>
<circle cx="23.9" cy="669.9" r="3.6" fill="none" stroke="#000" stroke-width="1.2"/><circle cx="23.9" cy="669.9" r="1.8" fill="#f00"/>
<line x1="28.8" y1="669.9" x2="31" y2="669.9" stroke="#f00" stroke-width="1.3"/>
<line x1="28.07" y1="674.07" x2="29.77" y2="675.77" stroke="#f00" stroke-width="1.3"/>
<line x1="23.9" y1="674.8" x2="23.9" y2="677" stroke="#f00" stroke-width="1.3"/>
<line x1="19.73" y1="674.07" x2="18.03" y2="675.77" stroke="#f00" stroke-width="1.3"/>
<line x1="19" y1="669.9" x2="16.8" y2="669.9" stroke="#f00" stroke-width="1.3"/>
<line x1="19.73" y1="665.73" x2="18.03" y2="664.03" stroke="#f00" stroke-width="1.3"/>
<line x1="23.9" y1="665" x2="23.9" y2="662.8" stroke="#f00" stroke-width="1.3"/>
<line x1="28.07" y1="665.73" x2="29.77" y2="664.03" stroke="#f00" stroke-width="1.3"/>
</g>
<text x="87.6" y="676.8" fill="#000" textLength="78.6" lengthAdjust="spacingAndGlyphs">MACD(13,8,9)</text>
<text x="170.8" y="676.8" fill="#000" textLength="58" lengthAdjust="spacingAndGlyphs">DIFF:22.28</text>
<text x="238.3" y="676.8" fill="#0000a0" textLength="56.5" lengthAdjust="spacingAndGlyphs">DEA:19.26</text>
<text x="303.8" y="676.8" fill="#ff00ff" textLength="62.4" lengthAdjust="spacingAndGlyphs">MACD:6.03</text>
<g shape-rendering="crispEdges">
<rect x="90" y="781" width="1" height="26" fill="#d0443b"/>
<rect x="98" y="776" width="1" height="31" fill="#d0443b"/>
<rect x="106" y="765" width="1" height="42" fill="#d0443b"/>
<rect x="114" y="760" width="1" height="47" fill="#d0443b"/>
<rect x="122" y="764" width="1" height="43" fill="#d0443b"/>
<rect x="130" y="764" width="1" height="43" fill="#d0443b"/>
<rect x="138" y="761" width="1" height="46" fill="#d0443b"/>
<rect x="146" y="767" width="1" height="40" fill="#d0443b"/>
<rect x="154" y="773" width="1" height="34" fill="#d0443b"/>
<rect x="162" y="783" width="1" height="24" fill="#d0443b"/>
<rect x="170" y="791" width="1" height="16" fill="#d0443b"/>
<rect x="178" y="793" width="1" height="14" fill="#d0443b"/>
<rect x="186" y="796" width="1" height="11" fill="#d0443b"/>
<rect x="194" y="806" width="1" height="2" fill="#5fa45b"/>
<rect x="202" y="806" width="1" height="13" fill="#5fa45b"/>
<rect x="210" y="806" width="1" height="13" fill="#5fa45b"/>
<rect x="218" y="806" width="1" height="3" fill="#5fa45b"/>
<rect x="226" y="802" width="1" height="5" fill="#d0443b"/>
<rect x="234" y="806" width="1" height="2" fill="#5fa45b"/>
<rect x="242" y="806" width="1" height="5" fill="#5fa45b"/>
<rect x="250" y="806" width="1" height="6" fill="#5fa45b"/>
<rect x="258" y="800" width="1" height="7" fill="#d0443b"/>
<rect x="266" y="793" width="1" height="14" fill="#d0443b"/>
<rect x="274" y="792" width="1" height="15" fill="#d0443b"/>
<rect x="282" y="797" width="1" height="10" fill="#d0443b"/>
<rect x="290" y="798" width="1" height="9" fill="#d0443b"/>
<rect x="298" y="788" width="1" height="19" fill="#d0443b"/>
<rect x="306" y="783" width="1" height="24" fill="#d0443b"/>
<rect x="314" y="775" width="1" height="32" fill="#d0443b"/>
<rect x="322" y="789" width="1" height="18" fill="#d0443b"/>
<rect x="330" y="794" width="1" height="13" fill="#d0443b"/>
<rect x="338" y="784" width="1" height="23" fill="#d0443b"/>
<rect x="346" y="778" width="1" height="29" fill="#d0443b"/>
<rect x="354" y="769" width="1" height="38" fill="#d0443b"/>
<rect x="362" y="750" width="1" height="57" fill="#d0443b"/>
<rect x="370" y="764" width="1" height="43" fill="#d0443b"/>
<rect x="378" y="760" width="1" height="47" fill="#d0443b"/>
<rect x="386" y="806" width="1" height="5" fill="#5fa45b"/>
<rect x="394" y="806" width="1" height="41" fill="#5fa45b"/>
<rect x="402" y="806" width="1" height="56" fill="#5fa45b"/>
<rect x="410" y="806" width="1" height="66" fill="#5fa45b"/>
<rect x="418" y="806" width="1" height="94" fill="#5fa45b"/>
<rect x="426" y="806" width="1" height="109" fill="#5fa45b"/>
<rect x="434" y="806" width="1" height="112" fill="#5fa45b"/>
<rect x="442" y="806" width="1" height="90" fill="#5fa45b"/>
<rect x="450" y="806" width="1" height="75" fill="#5fa45b"/>
<rect x="458" y="806" width="1" height="61" fill="#5fa45b"/>
<rect x="466" y="806" width="1" height="62" fill="#5fa45b"/>
<rect x="474" y="806" width="1" height="48" fill="#5fa45b"/>
<rect x="482" y="806" width="1" height="36" fill="#5fa45b"/>
<rect x="490" y="806" width="1" height="22" fill="#5fa45b"/>
<rect x="498" y="796" width="1" height="11" fill="#d0443b"/>
<rect x="506" y="777" width="1" height="30" fill="#d0443b"/>
<rect x="514" y="757" width="1" height="50" fill="#d0443b"/>
<rect x="522" y="755" width="1" height="52" fill="#d0443b"/>
<rect x="530" y="776" width="1" height="31" fill="#d0443b"/>
<rect x="538" y="797" width="1" height="10" fill="#d0443b"/>
<rect x="546" y="805" width="1" height="2" fill="#d0443b"/>
<rect x="554" y="806" width="1" height="4" fill="#5fa45b"/>
<rect x="562" y="806" width="1" height="6" fill="#5fa45b"/>
<rect x="570" y="806" width="1" height="10" fill="#5fa45b"/>
<rect x="578" y="803" width="1" height="4" fill="#d0443b"/>
<rect x="586" y="799" width="1" height="8" fill="#d0443b"/>
<rect x="594" y="791" width="1" height="16" fill="#d0443b"/>
<rect x="602" y="791" width="1" height="16" fill="#d0443b"/>
<rect x="610" y="781" width="1" height="26" fill="#d0443b"/>
<rect x="618" y="776" width="1" height="31" fill="#d0443b"/>
<rect x="626" y="783" width="1" height="24" fill="#d0443b"/>
<rect x="634" y="790" width="1" height="17" fill="#d0443b"/>
<rect x="642" y="796" width="1" height="11" fill="#d0443b"/>
<rect x="650" y="803" width="1" height="4" fill="#d0443b"/>
<rect x="658" y="806" width="1" height="5" fill="#5fa45b"/>
<rect x="666" y="806" width="1" height="7" fill="#5fa45b"/>
<rect x="674" y="806" width="1" height="4" fill="#5fa45b"/>
<rect x="682" y="800" width="1" height="7" fill="#d0443b"/>
<rect x="690" y="797" width="1" height="10" fill="#d0443b"/>
</g>
<polyline points="90.5,797.9 98.5,793.7 106.5,789.5 114.5,784.4 122.5,778.5 130.5,773.4 138.5,768 146.5,762.6 154.5,758.2 162.5,755.4 170.5,753.3 178.5,751.7 186.5,751 194.5,751.7 202.5,753.1 210.5,754 218.5,754.9 226.5,754 234.5,754.7 242.5,755.4 250.5,755.9 258.5,754.7 266.5,752.8 274.5,751 282.5,750 290.5,748.9 298.5,747 306.5,743.7 314.5,740 322.5,738.1 330.5,736.5 338.5,734.2 346.5,730 354.5,726 362.5,719.5 370.5,713.2 378.5,708.5 386.5,708.5 394.5,713.2 402.5,719 410.5,727.2 418.5,739.3 426.5,755.2 434.5,769.2 442.5,779.7 450.5,789 458.5,796 466.5,804 474.5,809 482.5,813.5 490.5,816.3 498.5,814.2 506.5,810 514.5,804.2 522.5,798.8 530.5,795.3 538.5,794.1 546.5,794.4 554.5,794.8 562.5,795.5 570.5,796.3 578.5,796 586.5,795.1 594.5,793.2 602.5,790.9 610.5,787.4 618.5,783.6 626.5,780.8 634.5,779 642.5,778 650.5,777.8 658.5,778.3 666.5,779.2 674.5,779.7 682.5,779 690.5,778" fill="none" stroke="#0000a0" stroke-width="1" stroke-linejoin="round" shape-rendering="crispEdges"/>
<polyline points="90.5,786 98.5,778.5 106.5,769.2 114.5,759.8 122.5,758.2 130.5,751.7 138.5,745.1 146.5,743 154.5,742.3 162.5,744.2 170.5,747.2 178.5,746.1 186.5,746.5 194.5,752.1 202.5,758.7 210.5,760.1 218.5,755.9 226.5,752.1 234.5,755.2 242.5,756.3 250.5,758.2 258.5,752.1 266.5,747 274.5,744.2 282.5,746 290.5,745.1 298.5,738.8 306.5,733 314.5,725.5 322.5,730.2 330.5,730.2 338.5,724.1 346.5,717.8 354.5,706.9 362.5,691.5 370.5,692.6 378.5,685.4 386.5,708.5 394.5,731.8 402.5,748.2 410.5,761 418.5,784.4 426.5,806.8 434.5,824 442.5,823 450.5,825.1 458.5,825.3 466.5,833.4 474.5,832.3 482.5,831 490.5,826.8 498.5,807.7 506.5,794.8 514.5,780.1 522.5,773.8 530.5,778.5 538.5,789 546.5,794.1 554.5,796 562.5,797.9 570.5,800.2 578.5,795.3 586.5,790.9 594.5,786 602.5,782.7 610.5,775 618.5,769.4 626.5,770.1 634.5,771 642.5,773.1 650.5,776.6 658.5,780.1 666.5,782.5 674.5,780.8 682.5,776.2 690.5,772.9" fill="none" stroke="#000" stroke-width="1" stroke-linejoin="round" shape-rendering="crispEdges"/>
</g>
<g id="xlabels" font-weight="bold" fill="#222838">
<text x="100.4" y="931" textLength="43.9" lengthAdjust="spacingAndGlyphs">2025/09</text>
<text x="276.4" y="931" textLength="43.9" lengthAdjust="spacingAndGlyphs">2025/10</text>
<text x="460.5" y="931" textLength="43.9" lengthAdjust="spacingAndGlyphs">2025/11</text>
<text x="620.6" y="931" textLength="43.9" lengthAdjust="spacingAndGlyphs">2025/12</text>
</g>
<g id="bottom">
<rect x="15.5" y="918.5" width="69" height="19" fill="#fff" stroke="#cdd5df"/>
<text class="cjk" x="29.5" y="933.7" font-size="12" font-weight="bold" fill="#ff7a1a">日线</text>
<path d="M59.6 933.3 L64 924.5 L68.4 933.3 Z" fill="#ff7a1a"/>
<rect x="15" y="938" width="564" height="16" fill="#fff"/>
<rect x="15" y="938" width="40" height="15.6" fill="#ff6600"/>
<rect x="0" y="952.8" width="857" height="1.7" fill="#cdd3dd"/>
<rect x="55" y="938" width="802" height="1" fill="#d3dae4"/>
<rect x="54" y="938" width="1" height="16" fill="#cdd5df"/>
<rect x="94" y="938" width="1" height="16" fill="#cdd5df"/>
<rect x="152" y="938" width="1" height="16" fill="#cdd5df"/>
<rect x="180" y="938" width="1" height="16" fill="#cdd5df"/>
<rect x="220" y="938" width="1" height="16" fill="#cdd5df"/>
<rect x="261" y="938" width="1" height="16" fill="#cdd5df"/>
<rect x="294" y="938" width="1" height="16" fill="#cdd5df"/>
<rect x="334" y="938" width="1" height="16" fill="#cdd5df"/>
<rect x="368" y="938" width="1" height="16" fill="#cdd5df"/>
<rect x="402" y="938" width="1" height="16" fill="#cdd5df"/>
<rect x="442" y="938" width="1" height="16" fill="#cdd5df"/>
<rect x="476" y="938" width="1" height="16" fill="#cdd5df"/>
<rect x="505" y="938" width="1" height="16" fill="#cdd5df"/>
<rect x="538" y="938" width="1" height="16" fill="#cdd5df"/>
<rect x="578" y="938" width="1" height="16" fill="#cdd5df"/>
<text class="cjk" x="23" y="951" font-size="12" fill="#fff">指标</text>
<text class="cjk" x="62.8" y="951" font-size="12" fill="#111">模板</text>
<text x="102.8" y="950" font-family="'Liberation Mono', monospace" font-size="10.4" fill="#ff7a1a" textLength="18.4" lengthAdjust="spacingAndGlyphs">VIP</text>
<text class="cjk" x="120.9" y="951" font-size="12" fill="#ff7a1a">指标</text>
<text x="160.9" y="950" font-family="'Liberation Mono', monospace" font-size="10.4" fill="#111" textLength="12.2" lengthAdjust="spacingAndGlyphs">MA</text>
<text x="188.55" y="950" font-family="'Liberation Mono', monospace" font-size="10.4" fill="#111" textLength="24.4" lengthAdjust="spacingAndGlyphs">MACD</text>
<text x="228.8" y="950" font-family="'Liberation Mono', monospace" font-size="10.4" fill="#111" textLength="24.4" lengthAdjust="spacingAndGlyphs">BOLL</text>
<text x="269.15" y="950" font-family="'Liberation Mono', monospace" font-size="10.4" fill="#111" textLength="18.3" lengthAdjust="spacingAndGlyphs">VOL</text>
<text x="302.9" y="950" font-family="'Liberation Mono', monospace" font-size="10.4" fill="#111" textLength="24.4" lengthAdjust="spacingAndGlyphs">BIAS</text>
<text x="342.9" y="950" font-family="'Liberation Mono', monospace" font-size="10.4" fill="#111" textLength="18.3" lengthAdjust="spacingAndGlyphs">CCI</text>
<text x="377" y="950" font-family="'Liberation Mono', monospace" font-size="10.4" fill="#111" textLength="18.3" lengthAdjust="spacingAndGlyphs">KDJ</text>
<text x="414.2" y="950" font-family="'Liberation Mono', monospace" font-size="10.4" fill="#111" textLength="18.3" lengthAdjust="spacingAndGlyphs">LW&amp;</text>
<text x="451.05" y="950" font-family="'Liberation Mono', monospace" font-size="10.4" fill="#111" textLength="18.3" lengthAdjust="spacingAndGlyphs">RSI</text>
<text x="485.2" y="950" font-family="'Liberation Mono', monospace" font-size="10.4" fill="#111" textLength="12.2" lengthAdjust="spacingAndGlyphs">CR</text>
<text x="513.25" y="950" font-family="'Liberation Mono', monospace" font-size="10.4" fill="#111" textLength="18.3" lengthAdjust="spacingAndGlyphs">PSY</text>
<text class="cjk" x="547" y="951" font-size="12" fill="#111">设置</text>
<rect x="738" y="954.6" width="119" height="8.4" fill="#b9b9bd"/>
<path d="M816.3 961.8 L828 955.8 L839.6 961.8 Z" fill="#68686c"/>
</g>
<text x="728.3" y="939.3" font-size="32.1" fill="#cdbfb0" letter-spacing="1.3">FX678</text>
<text x="727.2" y="938.3" font-size="32.1" fill="#dce9f8" letter-spacing="1.3">FX678</text>
</svg>
</body></html>
